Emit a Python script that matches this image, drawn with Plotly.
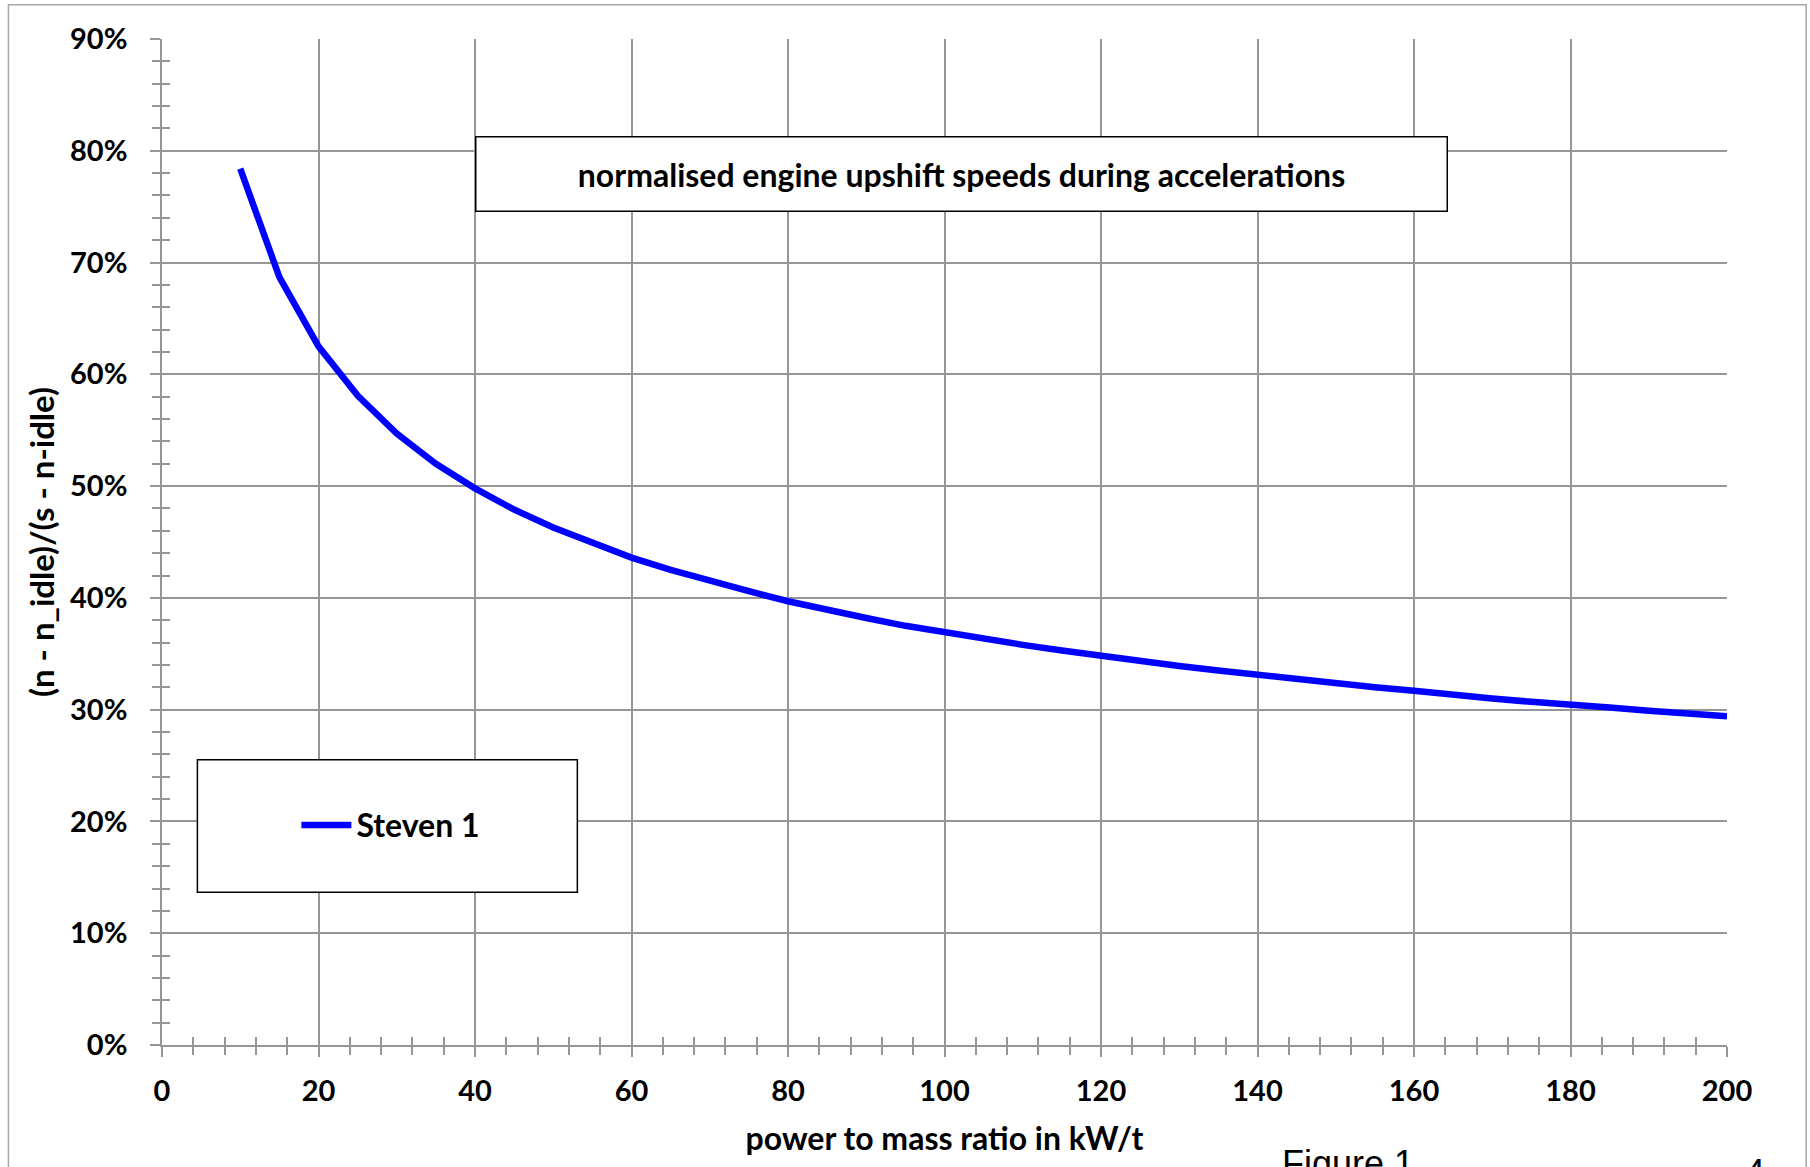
import plotly.graph_objects as go

# Data
power_to_mass = [10, 15, 20, 25, 30, 35, 40, 45, 50, 55, 60, 65, 70, 75, 80, 85, 90, 95,
                 100, 105, 110, 115, 120, 125, 130, 135, 140, 145, 150, 155, 160, 165,
                 170, 175, 180, 185, 190, 195, 200]
steven_1 = [78.4, 68.7, 62.5, 58.1, 54.7, 52.0, 49.8, 47.9, 46.3, 44.9, 43.6, 42.5,
            41.5, 40.6, 39.7, 38.9, 38.2, 37.5, 36.9, 36.3, 35.8, 35.3, 34.8, 34.3,
            33.9, 33.5, 33.1, 32.7, 32.3, 32.0, 31.7, 31.3, 31.0, 30.7, 30.5, 30.2,
            29.9, 29.7, 29.4]
series_name = "Steven 1"
chart_title = "normalised engine upshift speeds during accelerations"
x_title = "power to mass ratio in kW/t"
y_title = "(n - n_idle)/(s - n-idle)"

GRID = "#969696"
FONT = "Lato"
W, H = 1810, 1167
L, R, T, B = 161.6, W - 1726.8, 39.2, H - 1044.7
PW, PH = W - L - R, H - T - B


def px(xp):
    return (xp - L) / PW


def py(yp):
    return (H - B - yp) / PH


fig = go.Figure()
fig.add_trace(go.Scatter(
    x=power_to_mass, y=steven_1, mode="lines", name=series_name,
    line=dict(color="#0000FF", width=6.5),
))
# helper trace so the overlay axes (inward tick halves) are drawn
fig.add_trace(go.Scatter(
    x=power_to_mass[:1], y=steven_1[:1], xaxis="x2", yaxis="y2", mode="markers",
    marker=dict(opacity=0), showlegend=False, hoverinfo="skip",
))

tickfont = dict(family=FONT, size=29, color="black", weight="bold")
common = dict(showgrid=True, gridcolor=GRID, gridwidth=1.5, showline=True,
              linecolor=GRID, linewidth=1.5, ticks="outside", ticklen=10,
              tickwidth=1.5, tickcolor=GRID, zeroline=False, tickfont=tickfont)

fig.update_layout(
    width=W, height=H,
    margin=dict(l=L, r=R, t=T, b=B, autoexpand=False),
    paper_bgcolor="white", plot_bgcolor="white",
    xaxis=dict(range=[0, 200], tick0=0, dtick=20,
               minor=dict(dtick=4, ticks="outside", ticklen=8, tickwidth=1.5,
                          tickcolor=GRID, showgrid=False),
               ticklabelstandoff=9,
               title=dict(text=x_title, standoff=22,
                          font=dict(family=FONT, size=32, color="black", weight="bold")),
               **common),
    yaxis=dict(range=[0, 90], tick0=0, dtick=10, ticksuffix="%",
               minor=dict(dtick=2, ticks="outside", ticklen=8, tickwidth=1.5,
                          tickcolor=GRID, showgrid=False),
               ticklabelstandoff=17,
               title=dict(text=y_title, standoff=5,
                          font=dict(family=FONT, size=33, color="black", weight="bold")),
               **common),
    xaxis2=dict(overlaying="x", anchor="y", side="bottom", range=[0, 200], tick0=0,
                dtick=20, ticks="inside", ticklen=10, tickwidth=1.5, tickcolor=GRID,
                minor=dict(dtick=4, ticks="inside", ticklen=8, tickwidth=1.5,
                           tickcolor=GRID, showgrid=False),
                showgrid=False, showline=False, showticklabels=False, zeroline=False),
    yaxis2=dict(overlaying="y", anchor="x", side="left", range=[0, 90], tick0=0,
                dtick=10, ticks="inside", ticklen=10, tickwidth=1.5, tickcolor=GRID,
                minor=dict(dtick=2, ticks="inside", ticklen=8, tickwidth=1.5,
                           tickcolor=GRID, showgrid=False),
                showgrid=False, showline=False, showticklabels=False, zeroline=False),
    showlegend=True,
    legend=dict(x=px(296), xanchor="left", y=py(825), yanchor="middle",
                bgcolor="rgba(0,0,0,0)", borderwidth=0, itemwidth=50,
                font=dict(family=FONT, size=32, color="black", weight="bold")),
)

# outer chart frame
fig.add_shape(type="rect", xref="paper", yref="paper",
              x0=px(8), x1=px(1806), y0=py(1200), y1=py(5),
              line=dict(color="#A6A6A6", width=1.5), layer="below")
# legend box
fig.add_shape(type="rect", xref="paper", yref="paper",
              x0=px(197), x1=px(577), y0=py(892), y1=py(759.5),
              line=dict(color="black", width=1.5), fillcolor="white", layer="above")

# title box
fig.add_annotation(xref="paper", yref="paper", x=px(961.5), y=py(174.5),
                   xanchor="center", yanchor="middle",
                   text=chart_title, showarrow=False, width=970, height=73,
                   bgcolor="white", bordercolor="black", borderwidth=1.5, borderpad=0,
                   font=dict(family=FONT, size=32, color="black", weight="bold"))

# page caption text
fig.add_annotation(xref="paper", yref="paper", x=px(1348), y=py(1141),
                   xanchor="center", yanchor="top", text="Figure 1", showarrow=False,
                   font=dict(family="Liberation Sans", size=36, color="black"))
fig.add_annotation(xref="paper", yref="paper", x=px(1755), y=py(1150),
                   xanchor="center", yanchor="top", text="4", showarrow=False,
                   font=dict(family="Liberation Sans", size=36, color="black"))

fig.write_html("out.html", config={"displayModeBar": False},
               post_script="document.body.style.margin='0px';")
